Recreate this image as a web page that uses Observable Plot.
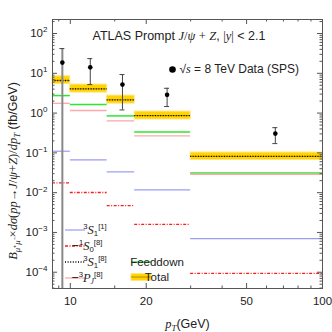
<!DOCTYPE html>
<html><head><meta charset="utf-8">
<script src="https://cdn.jsdelivr.net/npm/d3@7"></script>
<script src="https://cdn.jsdelivr.net/npm/@observablehq/plot@0.6"></script>
<style>body{margin:0;background:#fff}</style>
</head><body><div id="chart"></div>
<script>
// ---- data ----
const binLo = [8.5, 10, 14, 18, 30];
const binHi = [10, 14, 18, 30, 100];
const total = [6.6, 4.06, 2.15, 0.865, 0.082];
const totalLo = [5.4, 3.27, 1.73, 0.69, 0.066];
const totalHi = [8.4, 5.2, 2.75, 1.09, 0.102];
const s1oct = [6.6, 4.06, 2.15, 0.865, 0.082];      // 3S1[8]
const feeddown = [2.75, 1.64, 0.85, 0.337, 0.0314];
const pjoct = [1.76, 1.16, 0.637, 0.267, 0.029];    // -3PJ[8]
const s1sing = [0.11, 0.0667, 0.0333, 0.0118, 0.0007]; // 3S1[1]
const s0oct = [0.0176, 0.0101, 0.00474, 0.0016, 0.000094]; // -1S0[8]
const dataPt = [9.3, 12, 16.1, 24.2, 65];
const dataVal = [18.6, 14.1, 5.2, 2.87, 0.305];
const dataUp = [41.8, 23.4, 9.3, 4.2, 0.43];
const dataDown = [1e-6, 5.2, 1.2, 1.46, 0.171];

const xMajor = [10, 20, 50, 100];
const xMinor = [9, 15, 30, 40, 60, 70, 80, 90];
const yMajor = [1e-4, 1e-3, 1e-2, 1e-1, 1, 10, 100];
const yMantissas = [2, 3, 4, 5, 6, 7, 8, 9];
const yDecades = [1e-5, 1e-4, 1e-3, 1e-2, 1e-1, 1, 10, 100];
const yMinor = yDecades.flatMap(d => yMantissas.map(m => m * d)).filter(v => v > 3.9e-5 && v < 225);

const titleText = "ATLAS Prompt *J*~/~*ψ* ~+~ *Z*, ~|~*y*~|~ < 2.1";
const dataLegendText = "√*s* = 8 TeV Data (SPS)";
const yLabelText = "*B*_{*μ*~⁺~*μ*~⁻~}~×~*dσ*~(~*pp*~→~*J*~/~*ψ*~+~*Z*~)/~*dp*_{*T*} (fb/GeV)";
const xLabelText = "*p*_{*T*}(GeV)";
const legendLabels = ["^{3}*S*_{1}^{[1]}", "−^{1}*S*_{0}^{[8]}", "^{3}*S*_{1}^{[8]}", "−^{3}*P*_{*J*}^{[8]}"];
const legendLabels2 = ["Feeddown", "Total"];

const C = {blue: "#9a9cf2", red: "#ff1a1a", pink: "#ffa8a8", green: "#2ee62e", gold: "#ffd400", goldEdge: "#ffe680", goldLine: "#b88a00"};

const bins = binLo.map((lo, i) => ({lo, hi: binHi[i], total: total[i], tLo: totalLo[i], tHi: totalHi[i],
  s1oct: s1oct[i], feed: feeddown[i], pj: pjoct[i], s1: s1sing[i], s0: s0oct[i]}));
const pts = dataPt.map((x, i) => ({x, v: dataVal[i], up: dataUp[i], lo: dataDown[i]}));

const seg = (y, o) => Plot.ruleY(bins, {y, x1: "lo", x2: "hi", ...o});
const supFmt = d => { const e = Math.round(Math.log10(d)); return "10^{" + (e < 0 ? "−" + (-e) : e) + "}"; };

const plot = Plot.plot({
  width: 332, height: 332,
  marginLeft: 52, marginRight: 10, marginTop: 19, marginBottom: 44,
  style: {fontFamily: "'Liberation Sans', Arial, sans-serif", fontSize: "11px", background: "white", color: "#222"},
  x: {type: "log", domain: [8.5, 100]},
  y: {type: "log", domain: [3.9e-5, 225]},
  marks: [
    Plot.rect(bins, {x1: "lo", x2: "hi", y1: "tLo", y2: "tHi", fill: C.gold, stroke: C.goldEdge, strokeWidth: 1}),
    seg("total", {stroke: C.goldLine, strokeWidth: 1}),
    seg("s1oct", {stroke: "black", strokeWidth: 1.3, strokeDasharray: "1,1.6"}),
    seg("feed", {stroke: C.green, strokeWidth: 1.5}),
    seg("pj", {stroke: C.pink, strokeWidth: 1.3}),
    seg("s1", {stroke: C.blue, strokeWidth: 1.2}),
    seg("s0", {stroke: C.red, strokeWidth: 1.3, strokeDasharray: "3,1.5,1,1.5"}),
    // error bars
    Plot.ruleX(pts.slice(0, 1), {x: "x", y1: "lo", y2: "up", stroke: "#888", strokeWidth: 2, clip: true}),
    Plot.ruleX(pts.slice(1), {x: "x", y1: "lo", y2: "up", stroke: "#444", strokeWidth: 1}),
    Plot.ruleY(pts, {y: "up", x1: "x", x2: "x", insetLeft: -2.5, insetRight: -2.5, stroke: "#444"}),
    Plot.ruleY(pts.slice(1), {y: "lo", x1: "x", x2: "x", insetLeft: -2.5, insetRight: -2.5, stroke: "#444"}),
    Plot.dot(pts, {x: "x", y: "v", r: 2.3, fill: "black"}),
    // frame & ticks
    Plot.frame({stroke: "#555"}),
    Plot.ruleX(xMajor, {x: d => d, insetTop: 264, stroke: "#555"}),
    Plot.ruleX(xMajor, {x: d => d, insetBottom: 264, stroke: "#555"}),
    Plot.ruleX(xMinor, {x: d => d, insetTop: 266.5, stroke: "#555"}),
    Plot.ruleX(xMinor, {x: d => d, insetBottom: 266.5, stroke: "#555"}),
    Plot.ruleY(yMajor, {y: d => d, insetRight: 265, stroke: "#555"}),
    Plot.ruleY(yMajor, {y: d => d, insetLeft: 265, stroke: "#555"}),
    Plot.ruleY(yMinor, {y: d => d, insetRight: 267.5, stroke: "#555"}),
    Plot.ruleY(yMinor, {y: d => d, insetLeft: 267.5, stroke: "#555"}),
    Plot.axisX({ticks: xMajor, tickSize: 0, tickPadding: 8, tickFormat: d => String(d), label: null, fontSize: 11.5}),
    Plot.axisY({ticks: yMajor, tickSize: 0, tickPadding: 5, tickFormat: supFmt, label: null, fontSize: 11.5}),
    // texts
    Plot.text([titleText], {text: d => d, frameAnchor: "top-left", dx: 40, dy: 16, textAnchor: "start", lineAnchor: "middle", fontSize: 12.5}),
    Plot.dot([0], {frameAnchor: "top-left", dx: 120, dy: 50, r: 3.3, fill: "black"}),
    Plot.text([dataLegendText], {text: d => d, frameAnchor: "top-left", dx: 127, dy: 50, textAnchor: "start", lineAnchor: "middle", fontSize: 12}),
    Plot.text([yLabelText], {text: d => d, frameAnchor: "left", dx: -40, dy: 17, rotate: -90, textAnchor: "middle", lineAnchor: "middle", fontSize: 12.5}),
    Plot.text([xLabelText], {text: d => d, frameAnchor: "bottom", dy: 35, textAnchor: "middle", lineAnchor: "middle", fontSize: 12.5})
  ]
});
document.getElementById("chart").appendChild(plot);

// ---- legend (layout only) ----
const svg = d3.select(plot);
const lg = svg.append("g");
const rows = [230, 246, 262, 278];
const styles = [
  {stroke: C.blue, w: 1.2, dash: null},
  {stroke: C.red, w: 1.3, dash: "3,1.5,1,1.5"},
  {stroke: "black", w: 1.3, dash: "1,1.6"},
  {stroke: C.pink, w: 1.3, dash: null}
];
const labelX = [95, 87, 95, 87];
rows.forEach((y, i) => {
  lg.append("line").attr("x1", 65).attr("x2", 85).attr("y1", y).attr("y2", y)
    .attr("stroke", styles[i].stroke).attr("stroke-width", styles[i].w).attr("stroke-dasharray", styles[i].dash);
  lg.append("text").attr("x", labelX[i]).attr("y", y + 3.5).attr("font-size", 12.5).attr("fill", "#222").attr("class", "lgl").text(legendLabels[i]);
});
lg.append("line").attr("x1", 131).attr("x2", 151).attr("y1", 262).attr("y2", 262).attr("stroke", C.green).attr("stroke-width", 1.5);
lg.append("rect").attr("x", 131).attr("y", 273.5).attr("width", 20).attr("height", 7).attr("fill", C.gold).attr("stroke", C.goldEdge);
lg.append("line").attr("x1", 131).attr("x2", 151).attr("y1", 277).attr("y2", 277).attr("stroke", C.goldLine).attr("stroke-width", 1);
[262, 277].forEach((y, i) => lg.append("text").attr("x", 157).attr("y", y + 4).attr("font-size", 11.5).attr("fill", "#222").text(legendLabels2[i]));

// ---- rich text (sub/superscripts, italics) ----
function richify(el) {
  const src = el.textContent;
  if (!/[*~{]/.test(src)) return;
  const fs = parseFloat(getComputedStyle(el).fontSize) || 11;
  const tight = el.getAttribute("class") === "lgl";
  const segs = [];
  let mode = "sans", buf = "";
  const stack = [];
  const level = () => stack.length ? stack[stack.length - 1] : null;
  const flush = () => { if (buf) segs.push({t: buf, mode, level: level()}); buf = ""; };
  for (let i = 0; i < src.length; i++) {
    const c = src[i];
    if (c === "*") { flush(); mode = mode === "it" ? "sans" : "it"; }
    else if (c === "~") { flush(); mode = mode === "rm" ? "sans" : "rm"; }
    else if ((c === "_" || c === "^") && src[i + 1] === "{") { flush(); stack.push(c === "_" ? "sub" : "sup"); i++; }
    else if (c === "}") { flush(); stack.pop(); }
    else buf += c;
  }
  flush();
  while (el.firstChild) el.removeChild(el.firstChild);
  let cur = 0;
  const subK = tight ? 0.2 : 0.3, supK = tight ? -0.36 : -0.42, sc = tight ? 0.62 : 0.7;
  for (const s of segs) {
    const ts = document.createElementNS("http://www.w3.org/2000/svg", "tspan");
    const target = s.level === "sub" ? subK * fs : s.level === "sup" ? supK * fs : 0;
    if (target !== cur) ts.setAttribute("dy", target - cur);
    cur = target;
    if (s.level) ts.setAttribute("font-size", sc * fs);
    if (s.mode !== "sans") ts.setAttribute("font-family", "'Liberation Serif', 'Times New Roman', serif");
    if (s.mode === "it") ts.setAttribute("font-style", "italic");
    ts.textContent = s.t;
    el.appendChild(ts);
  }
}
plot.querySelectorAll("text").forEach(richify);
</script>
</body></html>
